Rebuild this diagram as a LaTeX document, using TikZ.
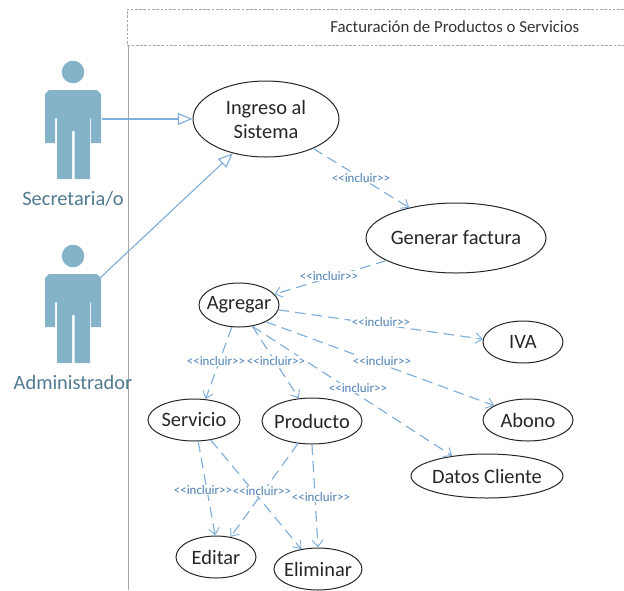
\documentclass[tikz,border=0pt]{standalone}
\usepackage{fontspec}
\setmainfont{Carlito}
\usetikzlibrary{shapes.geometric,arrows.meta}
\definecolor{actorblue}{HTML}{84B3C9}
\definecolor{actortext}{HTML}{4F7A90}
\definecolor{linkblue}{HTML}{7FAEDB}
\definecolor{labelblue}{HTML}{4A7FB5}
\definecolor{framegray}{HTML}{A6A6A6}
\tikzset{
  usecase/.style={ellipse,draw=black!85,line width=0.75pt,fill=white,inner sep=-10pt,align=center,font=\fontsize{15.3}{17}\selectfont,text=black!85},
  genlink/.style={draw=linkblue,line width=0.85pt,-{Triangle[open,fill=white,length=11pt,width=9pt]}},
  inclink/.style={draw=linkblue,line width=0.85pt,dash pattern=on 8pt off 4.5pt,-{Straight Barb[length=5pt,width=8pt,line width=0.7pt]}},
  inclabel/.style={font=\fontsize{9.7}{11}\selectfont,text=labelblue,fill=white,inner xsep=0.5pt,inner ysep=0.5pt},
  actorname/.style={font=\fontsize{15.3}{17}\selectfont,text=actortext,inner sep=0pt},
  framerule/.style={draw=framegray,line width=0.5pt},
}
\newcommand{\umlactor}[1]{%
  \fill[actorblue] (73,#1+72) circle (11.3);
  \fill[actorblue] (49,#1+90) -- (97,#1+90) -- (101,#1+94) -- (101,#1+143) -- (91,#1+143) -- (91,#1+118) -- (90,#1+118) -- (90,#1+179) -- (74.5,#1+179) -- (74.5,#1+131) -- (72,#1+131) -- (72,#1+179) -- (57,#1+179) -- (57,#1+118) -- (55,#1+118) -- (55,#1+143) -- (45,#1+143) -- (45,#1+94) -- cycle;
}
\begin{document}
\begin{tikzpicture}[x=0.75pt,y=-0.75pt]
\useasboundingbox (0,0) rectangle (624,590);
% frame
\draw[framerule,dash pattern=on 2pt off 1.2pt] (624,9) -- (127,9) -- (127,45) -- (624,45);
\draw[framerule,line width=0.7pt] (128,45) -- (128,590);
\node[anchor=base west,inner sep=0pt,font=\fontsize{12.6}{14}\selectfont,text=black!80] (title) at (330,32) {Facturación de Productos o Servicios};
% actors
\umlactor{0}
\umlactor{184}
\coordinate (secport) at (102,119);
\coordinate (admport) at (100,278);
\node[actorname] (secname) at (73,199) {Secretaria/o};
\node[actorname] (admname) at (73,382) {Administrador};
% use cases
\node[usecase,minimum width=109.5pt,minimum height=57pt] (ingreso) at (266,119) {Ingreso al\\[1pt]Sistema};
\node[usecase,minimum width=135pt,minimum height=52.5pt] (generar) at (456,238) {Generar factura};
\node[usecase,minimum width=60pt,minimum height=33pt] (agregar) at (239,305) {Agregar};
\node[usecase,minimum width=60pt,minimum height=31.5pt] (iva) at (523,342) {IVA};
\node[usecase,minimum width=67.5pt,minimum height=31.5pt] (abono) at (528,420) {Abono};
\node[usecase,minimum width=114pt,minimum height=33pt] (datos) at (487,476) {Datos Cliente};
\node[usecase,minimum width=69pt,minimum height=31.5pt] (servicio) at (194,420) {Servicio};
\node[usecase,minimum width=75pt,minimum height=34.5pt] (producto) at (312,421) {Producto};
\node[usecase,minimum width=60pt,minimum height=31.5pt] (editar) at (216,557) {Editar};
\node[usecase,minimum width=66pt,minimum height=31.5pt] (eliminar) at (318,569) {Eliminar};
% generalisations
\draw[genlink] (secport) -- (ingreso.180);
\draw[genlink] (admport) -- (ingreso.-134);
% includes
\draw[inclink] (ingreso.-32) -- (generar.147);
\draw[inclink] (generar.-162) -- (agregar.17);
\draw[inclink] (agregar.-7) -- (iva.176);
\draw[inclink] (agregar.-32) -- (abono.157);
\draw[inclink] (agregar.-58) -- (datos.150);
\draw[inclink] (agregar.-108) -- (servicio.61);
\draw[inclink] (agregar.-58) -- (producto.120);
\draw[inclink] (servicio.-79) -- (editar.92);
\draw[inclink] (servicio.-50) -- (eliminar.130);
\draw[inclink] (producto.-122) -- (editar.54);
\draw[inclink] (producto.-90) -- (eliminar.90);
% labels
\node[inclabel] (l1) at (361,178) {{<}{<}incluir{>}{>}};
\node[inclabel] (l2) at (329,276) {{<}{<}incluir{>}{>}};
\node[inclabel] (l3) at (381,322) {{<}{<}incluir{>}{>}};
\node[inclabel] (l4) at (216,361) {{<}{<}incluir{>}{>}};
\node[inclabel] (l5) at (276,361) {{<}{<}incluir{>}{>}};
\node[inclabel] (l6) at (382,361) {{<}{<}incluir{>}{>}};
\node[inclabel] (l7) at (358,388) {{<}{<}incluir{>}{>}};
\node[inclabel] (l8) at (321,497) {{<}{<}incluir{>}{>}};
\node[inclabel] (l9) at (203,490) {{<}{<}incluir{>}{>}};
\node[inclabel] (l10) at (262,491) {{<}{<}incluir{>}{>}};
\end{tikzpicture}
\end{document}
